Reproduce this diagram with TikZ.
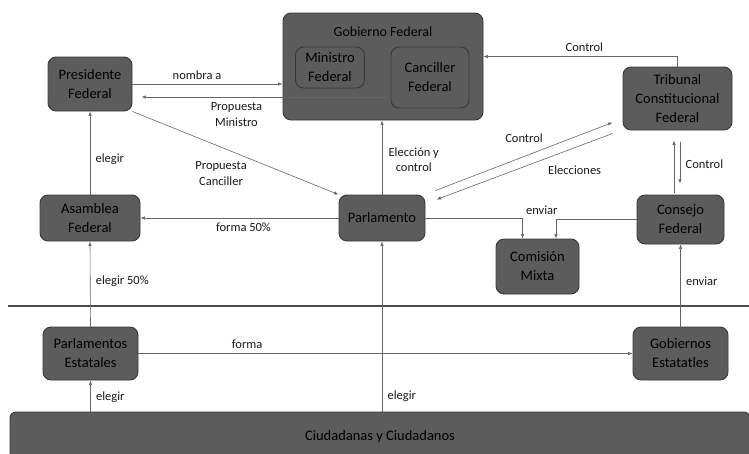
\documentclass[tikz,border=0pt]{standalone}
\usepackage{fontspec}
\setmainfont{Carlito}
\usetikzlibrary{arrows.meta,calc}
\definecolor{boxfill}{HTML}{5C5C5C}
\definecolor{boxline}{HTML}{383838}
\definecolor{linegray}{HTML}{666666}

\begin{document}
\begin{tikzpicture}[
        x=1pt, y=-1pt,
        every node/.style={font=\fontsize{14.5}{19}\selectfont},
        block/.style={
            draw=boxline,
            fill=boxfill,
            line width=0.9pt,
            rounded corners=8pt,
            inner sep=0pt,
            align=center,
            text=black
        },
        lbl/.style={font=\fontsize{12.5}{15.5}\selectfont, align=center, text=black!90},
        arrow/.style={-{Latex[length=4.5pt,width=3.5pt]}, draw=linegray, line width=0.6pt}
    ]
    \useasboundingbox (0,0) rectangle (749,453);
    \clip (0,0) rectangle (749,453);

    % Federal government
    \node[block, minimum width=200pt, minimum height=107pt] (gob) at (383,66.5) {};
    \node[font=\fontsize{14}{17}\selectfont, text=black] (gobtxt) at (383,32) {Gobierno Federal};
    \node[block, minimum width=69pt, minimum height=41pt] (min) at (330,67.5) {Ministro\\Federal};
    \node[block, minimum width=78pt, minimum height=61pt] (can) at (430,77.5) {Canciller\\Federal};

    % Federal bodies
    \node[block, minimum width=84pt, minimum height=54pt] (pres) at (90,84) {Presidente\\Federal};
    \node[block, minimum width=100pt, minimum height=46pt] (asam) at (90,218) {Asamblea\\Federal};
    \node[block, minimum width=86pt, minimum height=46pt] (parl) at (382,218) {Parlamento};
    \node[block, minimum width=83pt, minimum height=55pt] (com) at (537.5,266.5) {Comisión\\Mixta};
    \node[block, minimum width=87pt, minimum height=49pt] (cons) at (680.5,219.5) {Consejo\\Federal};
    \node[block, minimum width=109pt, minimum height=63pt] (trib) at (677.5,98.5) {Tribunal\\Constitucional\\Federal};

    % Separator
    \draw[draw=boxline!90, line width=1.8pt] (8,306) -- (749,306);

    % State level and citizens
    \node[block, minimum width=95pt, minimum height=53pt] (pest) at (90.5,353.5) {Parlamentos\\Estatales};
    \node[block, minimum width=95pt, minimum height=53pt] (gest) at (680.5,353.5) {Gobiernos\\Estatatles};
    \node[block, rounded corners=6pt, minimum width=740pt, minimum height=50pt] (ciud) at (380,437) {Ciudadanas y Ciudadanos};

    % President and government
    \draw[arrow] (pres.east) -- (pres.east -| gob.west) node[lbl, pos=0.43, above=1pt] {nombra a};
    \draw[arrow] ($(gob.center)+(2,30.5)$) -- ($(pres.east)+(9,13)$) node[lbl, pos=0.61, below=2pt] {Propuesta\\Ministro};
    \draw[arrow] (pres.south east) -- (parl.north west) node[lbl, pos=0.43, below=11pt] {Propuesta\\Canciller};
    \draw[arrow] (asam.north) -- (pres.south) node[lbl, pos=0.42, right=2pt] {elegir};

    % Parliament
    \draw[arrow] (parl.west) -- (asam.east) node[lbl, pos=0.48, below=1pt] {forma 50\%};
    \draw[arrow] (parl.north) -- (parl.north |- gob.south) node[lbl, pos=0.47, right=3pt] {Elección y\\control};
    \draw[arrow] (parl.east) -| ($(com.north)+(-15,0)$) node[lbl, pos=0.5, anchor=south west] {enviar};
    \draw[arrow] (cons.west) -| ($(com.north)+(18.5,0)$);

    % Constitutional court
    \draw[arrow] (trib.north) |- ($(gob.north east)+(0,44)$) node[lbl, pos=0.74, above=1pt] {Control};
    \draw[arrow] ($(parl.north east)+(10,-4)$) -- ($(trib.south west)+(-10,-8)$) node[lbl, pos=0.5, above=10pt] {Control};
    \draw[arrow] ($(trib.south west)+(-10,3)$) -- ($(parl.north east)+(11,5)$) node[lbl, pos=0.215, below=15pt] {Elecciones};
    \draw[arrow] ($(cons.north)+(-6.5,-2)$) -- ($(trib.south)+(-3.5,10)$);
    \draw[arrow] ($(trib.south)+(2.5,12)$) -- ($(cons.north)+(-0.5,-11)$) node[lbl, pos=0.52, right=2pt] {Control};

    % States
    \draw[arrow] (gest.north) -- (cons.south) node[lbl, pos=0.55, right=2pt] {enviar};
    \draw[arrow] (pest.east) -- (gest.west) node[lbl, pos=0.22, above=1pt] {forma};
    \draw[arrow] (pest.north) -- (asam.south) node[lbl, pos=0.53, right=2pt] {elegir 50\%};
    \draw[arrow] (pest.south |- ciud.north) -- (pest.south) node[lbl, pos=0.47, right=2pt] {elegir};
    \draw[arrow] (parl.south |- ciud.north) -- (parl.south) node[lbl, pos=0.09, right=2pt] {elegir};

\end{tikzpicture}
\end{document}
